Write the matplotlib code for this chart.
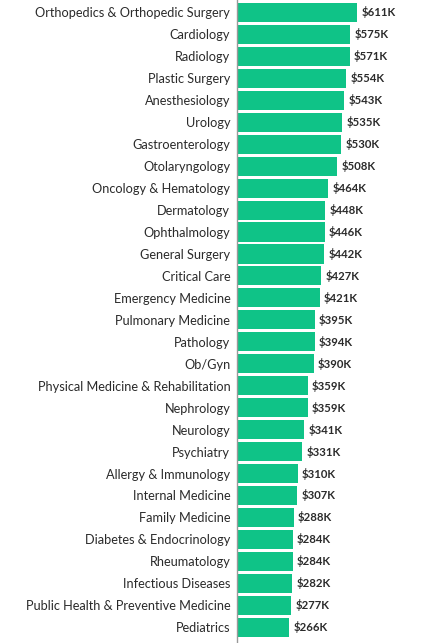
import matplotlib.pyplot as plt

specialties = [
    "Orthopedics & Orthopedic Surgery", "Cardiology", "Radiology",
    "Plastic Surgery", "Anesthesiology", "Urology", "Gastroenterology",
    "Otolaryngology", "Oncology & Hematology", "Dermatology",
    "Ophthalmology", "General Surgery", "Critical Care",
    "Emergency Medicine", "Pulmonary Medicine", "Pathology", "Ob/Gyn",
    "Physical Medicine & Rehabilitation", "Nephrology", "Neurology",
    "Psychiatry", "Allergy & Immunology", "Internal Medicine",
    "Family Medicine", "Diabetes & Endocrinology", "Rheumatology",
    "Infectious Diseases", "Public Health & Preventive Medicine",
    "Pediatrics",
]
salary_k = [611, 575, 571, 554, 543, 535, 530, 508, 464, 448, 446, 442,
            427, 421, 395, 394, 390, 359, 359, 341, 331, 310, 307, 288,
            284, 284, 282, 277, 266]

plt.rcParams['font.family'] = ['Lato', 'DejaVu Sans']

fig = plt.figure(figsize=(4.22, 6.43), dpi=100)
ax = fig.add_axes([236.5 / 422, 0, 1 - 236.5 / 422, 1])

pos = list(range(len(specialties)))
ax.barh(pos, salary_k, height=0.87, color="#0fc387", zorder=2)
for p, v in zip(pos, salary_k):
    ax.annotate("$%dK" % v, (v, p), xytext=(3, 0), textcoords="offset points",
                va="center", ha="left", fontsize=8.2, fontweight="bold",
                color="#2b2b2b")

ax.set_xlim(0, 937)
ax.set_ylim(28.72, -0.569)
ax.set_yticks(pos)
ax.set_yticklabels(specialties, fontsize=9.2, color="#2b2b2b")
ax.tick_params(axis="y", length=0, pad=4.5)
ax.set_xticks([])
for s in ["top", "right", "bottom"]:
    ax.spines[s].set_visible(False)
ax.spines["left"].set_color("#999999")
ax.spines["left"].set_linewidth(1)

fig.savefig("out.png", dpi=100)
